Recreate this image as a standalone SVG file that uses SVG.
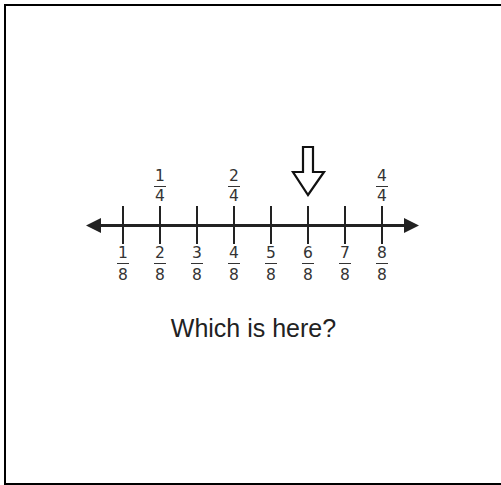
<svg xmlns="http://www.w3.org/2000/svg" width="501" height="485" viewBox="0 0 501 485">
<defs>
<style>
.frame{fill:#fff;stroke:#000;stroke-width:2}
.axis{stroke:#222;stroke-width:3;fill:none}
.tick{stroke:#222;stroke-width:2}
.bar{stroke:#333;stroke-width:1}
.num{font-family:"DejaVu Sans",sans-serif;font-size:15.5px;fill:#333;text-anchor:middle}
.q{font-family:"Liberation Sans",Arial,sans-serif;font-size:25px;fill:#222;text-anchor:middle}
</style>
</defs>
<rect class="frame" x="5" y="5" width="497" height="479"/>
<g id="connectors">
<line class="axis" x1="98" y1="225.5" x2="409" y2="225.5"/>
<polygon points="86,225.5 101,218 101,233" fill="#222"/>
<polygon points="419,225.5 404,218 404,233" fill="#222"/>
</g>
<g id="ticks">
<line class="tick" x1="123" y1="206" x2="123" y2="244"/>
<line class="tick" x1="160" y1="206" x2="160" y2="244"/>
<line class="tick" x1="197" y1="206" x2="197" y2="244"/>
<line class="tick" x1="234" y1="206" x2="234" y2="244"/>
<line class="tick" x1="271" y1="206" x2="271" y2="244"/>
<line class="tick" x1="308" y1="206" x2="308" y2="244"/>
<line class="tick" x1="345" y1="206" x2="345" y2="244"/>
<line class="tick" x1="382" y1="206" x2="382" y2="244"/>
</g>
<g id="top-labels">
<g id="q1"><text class="num" x="160" y="181">1</text><line class="bar" x1="154" y1="186.5" x2="166" y2="186.5"/><text class="num" x="160" y="201">4</text></g>
<g id="q2"><text class="num" x="234" y="181">2</text><line class="bar" x1="228" y1="186.5" x2="240" y2="186.5"/><text class="num" x="234" y="201">4</text></g>
<g id="q4"><text class="num" x="382" y="181">4</text><line class="bar" x1="376" y1="186.5" x2="388" y2="186.5"/><text class="num" x="382" y="201">4</text></g>
</g>
<g id="bottom-labels">
<g id="e1"><text class="num" x="123" y="258">1</text><line class="bar" x1="117" y1="263.5" x2="129" y2="263.5"/><text class="num" x="123" y="280">8</text></g>
<g id="e2"><text class="num" x="160" y="258">2</text><line class="bar" x1="154" y1="263.5" x2="166" y2="263.5"/><text class="num" x="160" y="280">8</text></g>
<g id="e3"><text class="num" x="197" y="258">3</text><line class="bar" x1="191" y1="263.5" x2="203" y2="263.5"/><text class="num" x="197" y="280">8</text></g>
<g id="e4"><text class="num" x="234" y="258">4</text><line class="bar" x1="228" y1="263.5" x2="240" y2="263.5"/><text class="num" x="234" y="280">8</text></g>
<g id="e5"><text class="num" x="271" y="258">5</text><line class="bar" x1="265" y1="263.5" x2="277" y2="263.5"/><text class="num" x="271" y="280">8</text></g>
<g id="e6"><text class="num" x="308" y="258">6</text><line class="bar" x1="302" y1="263.5" x2="314" y2="263.5"/><text class="num" x="308" y="280">8</text></g>
<g id="e7"><text class="num" x="345" y="258">7</text><line class="bar" x1="339" y1="263.5" x2="351" y2="263.5"/><text class="num" x="345" y="280">8</text></g>
<g id="e8"><text class="num" x="382" y="258">8</text><line class="bar" x1="376" y1="263.5" x2="388" y2="263.5"/><text class="num" x="382" y="280">8</text></g>
</g>
<g id="pointer">
<polygon points="303,147 313,147 313,172 324,172 308,195 293,172 303,172" fill="#fff" stroke="#111" stroke-width="2.2" stroke-linejoin="miter"/>
</g>
<g id="question">
<text class="q" x="253.5" y="337">Which is here?</text>
</g>
</svg>
